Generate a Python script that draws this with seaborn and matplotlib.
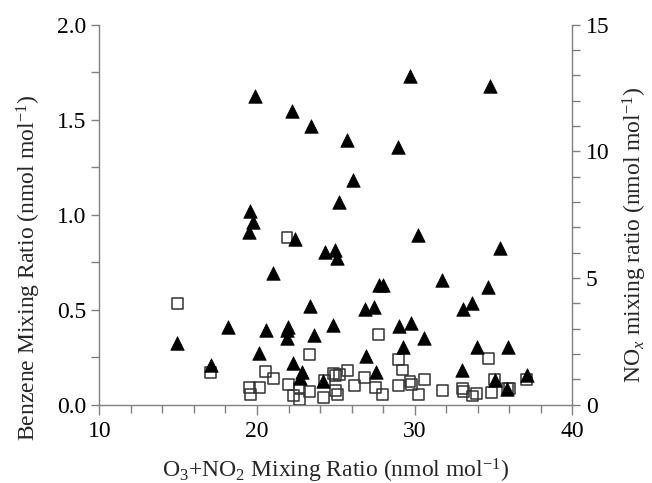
import matplotlib
matplotlib.use("Agg")
import matplotlib.pyplot as plt
from matplotlib.ticker import MultipleLocator
import seaborn as sns
import pandas as pd

# Benzene (open squares, left axis)
benz_x = [14.94, 17.06, 19.55, 19.6, 20.18, 20.54, 21.03, 21.9, 21.98, 22.3,
          22.67, 22.72, 23.35, 23.35, 24.26, 24.24, 24.83, 25.0, 25.25, 24.98,
          25.08, 25.76, 26.2, 26.84, 27.53, 27.72, 27.95, 28.95, 29.25, 29.0,
          29.7, 29.77, 30.26, 30.64, 31.76, 33.05, 33.07, 33.66, 33.92, 34.65,
          34.85, 35.08, 35.86, 36.0, 37.1]
benz_y = [0.533, 0.168, 0.09, 0.052, 0.093, 0.176, 0.137, 0.88, 0.105, 0.051,
          0.088, 0.028, 0.262, 0.068, 0.13, 0.038, 0.162, 0.156, 0.158, 0.077,
          0.056, 0.178, 0.099, 0.145, 0.093, 0.368, 0.053, 0.239, 0.183, 0.099,
          0.122, 0.105, 0.055, 0.135, 0.076, 0.086, 0.068, 0.046, 0.06, 0.244,
          0.065, 0.134, 0.086, 0.086, 0.135]

# NOx (filled triangles, right axis)
nox_x = [14.9, 17.06, 18.14, 19.55, 19.72, 19.5, 19.87, 20.14, 20.54, 21.03,
         21.98, 21.91, 21.87, 22.23, 22.4, 22.26, 22.83, 22.72, 23.4, 23.35,
         23.6, 24.32, 24.94, 25.09, 24.83, 24.2, 25.21, 25.72, 26.1, 26.84,
         26.94, 27.41, 27.74, 27.96, 27.53, 28.91, 28.99, 29.23, 29.75, 29.69,
         30.22, 30.6, 31.74, 33.07, 33.64, 33.0, 33.92, 34.65, 34.8, 35.39,
         35.08, 35.86, 35.92, 37.12]
nox_y = [2.42, 1.57, 3.08, 7.66, 7.22, 6.83, 12.19, 2.06, 2.95, 5.18,
         3.08, 2.95, 2.63, 11.6, 6.53, 1.66, 1.31, 1.04, 11.0, 3.9,
         2.75, 6.04, 6.1, 5.78, 3.15, 0.95, 8.01, 10.43, 8.87, 3.78,
         1.92, 3.87, 4.73, 4.73, 1.31, 10.16, 3.12, 2.27, 3.21, 12.98,
         6.7, 2.63, 4.92, 3.78, 4.03, 1.37, 2.27, 4.64, 12.56, 6.17,
         0.98, 0.61, 2.29, 1.17]

bdf = pd.DataFrame({"x": benz_x, "y": benz_y})
ndf = pd.DataFrame({"x": nox_x, "y": nox_y})

sns.set_style("white")
plt.rcParams["font.family"] = ["Liberation Serif", "DejaVu Serif"]
plt.rcParams["mathtext.fontset"] = "custom"
plt.rcParams["mathtext.rm"] = "Liberation Serif"
plt.rcParams["mathtext.it"] = "Liberation Serif:italic"

FS = 17

fig = plt.figure(figsize=(6.52, 4.83), dpi=100)
ax = fig.add_axes([0.1523, 0.162, 0.7257, 0.787])
ax2 = ax.twinx()

sns.scatterplot(data=bdf, x="x", y="y", ax=ax, marker="s", s=62,
                facecolor="none", edgecolor="#333333", linewidth=1.1, zorder=3)
sns.scatterplot(data=ndf, x="x", y="y", ax=ax2, marker="^", s=95,
                color="black", edgecolor="black", linewidth=0.5, zorder=4)

ax.set_xlim(10, 40)
ax.set_ylim(0, 2.0)
ax2.set_ylim(0, 15)

gray = "#808080"
for a in (ax, ax2):
    a.spines["top"].set_visible(False)
    for side in ("left", "right", "bottom"):
        a.spines[side].set_color(gray)
        a.spines[side].set_linewidth(1.0)
ax.spines["right"].set_visible(False)
ax2.spines["left"].set_visible(False)
ax2.spines["bottom"].set_visible(False)

ax.xaxis.set_major_locator(MultipleLocator(10))
ax.xaxis.set_minor_locator(MultipleLocator(2))
ax.yaxis.set_major_locator(MultipleLocator(0.5))
ax.yaxis.set_minor_locator(MultipleLocator(0.25))
ax2.yaxis.set_major_locator(MultipleLocator(5))
ax2.yaxis.set_minor_locator(MultipleLocator(1))
ax.yaxis.set_major_formatter(matplotlib.ticker.FormatStrFormatter("%.1f"))

ax.tick_params(axis="both", which="both", direction="out", color=gray,
               labelsize=FS, labelcolor="black", bottom=True, left=True,
               length=6, width=1)
ax.tick_params(axis="x", which="major", length=7, pad=5)
ax2.tick_params(axis="y", which="both", direction="out", color=gray,
                labelsize=FS, labelcolor="black", right=True, length=6, width=1)

ax.set_xlabel(r"O$_3$+NO$_2$ Mixing Ratio (nmol mol$^{-1}$)", fontsize=FS, labelpad=10)
ax.set_ylabel(r"Benzene Mixing Ratio (nmol mol$^{-1}$)", fontsize=FS)
ax2.set_ylabel(r"NO$_{\mathit{x}}$ mixing ratio (nmol mol$^{-1}$)", fontsize=FS)
ax.yaxis.set_label_coords(-0.118, 0.36)
ax2.yaxis.set_label_coords(1.102, 0.447)

fig.savefig("out.png", dpi=100, facecolor="white")
